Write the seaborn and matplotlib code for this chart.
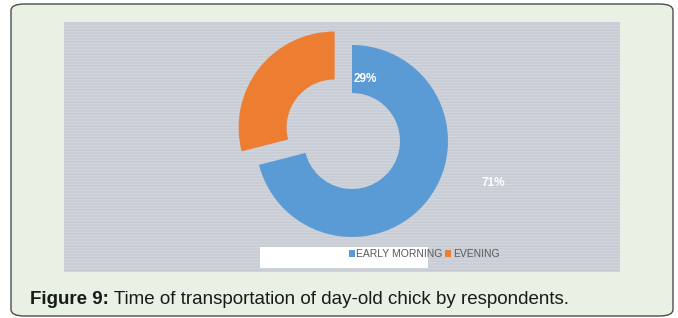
import matplotlib.pyplot as plt
import seaborn as sns
from matplotlib.patches import FancyBboxPatch, Rectangle, Patch

# Data
categories = ["EARLY MORNING", "EVENING"]
shares = [71, 29]
pct_labels = ["71%", "29%"]
explode = [0, 22]
caption_bold = "Figure 9:"
caption_text = " Time of transportation of day-old chick by respondents."

sns.set_style("white")
plt.rcParams["font.family"] = ["Liberation Sans", "DejaVu Sans"]
colors = sns.color_palette(["#5b9bd5", "#ed7d31"])

fig = plt.figure(figsize=(6.78, 3.18), dpi=100)
fig.patch.set_facecolor("white")

# Rounded figure frame
frame = FancyBboxPatch((11 / 678, 2 / 318), 662 / 678, 312 / 318,
                       boxstyle="round,pad=0,rounding_size=0.02",
                       transform=fig.transFigure, facecolor="#e8f1e4",
                       edgecolor="#4d4d4d", linewidth=1.0, zorder=-5)
fig.patches.append(frame)

# Chart area (pixel-like data units)
ax = fig.add_axes([64 / 678, 1 - 272 / 318, 556 / 678, 250 / 318])
ax.set_zorder(2)
ax.set_facecolor("#c9cdd5")
for s in ax.spines.values():
    s.set_visible(False)

# faint horizontal stripes like the scanned background
for yy in range(47, 296, 3):
    ax.axhline(yy, color="#d3d6dc", linewidth=0.6, zorder=0)

ax.pie(shares, colors=colors, startangle=90, counterclock=False,
       explode=explode, center=(352, 177), radius=96,
       wedgeprops=dict(width=48, linewidth=0), frame=True)
ax.set_xlim(64, 620)
ax.set_ylim(46, 296)
ax.set_aspect("equal")
ax.set_xticks([])
ax.set_yticks([])

ax.text(365, 239, pct_labels[1], color="white", fontsize=8.5, fontweight="bold",
        ha="center", va="center")
ax.text(493, 135, pct_labels[0], color="white", fontsize=8.5, fontweight="bold",
        ha="center", va="center")

# Legend with odd white box behind part of it
ax.add_patch(Rectangle((260, 50), 168, 21, facecolor="white", edgecolor="none", zorder=3))
handles = [Patch(facecolor=c, edgecolor="none") for c in colors]
leg = ax.legend(handles, categories, loc="center", bbox_to_anchor=(424, 64),
                bbox_transform=ax.transData, ncol=2, frameon=False,
                fontsize=7.5, handlelength=0.6, handleheight=0.6,
                handletextpad=0.15, columnspacing=0.2, labelcolor="#595959")
leg.set_zorder(4)

# Caption
t1 = fig.text(30 / 678, 1 - 299 / 318, caption_bold, fontsize=13.5,
              fontweight="bold", color="#1a1a1a", va="center", ha="left")
fig.canvas.draw()
bb = t1.get_window_extent()
fig.text(bb.x1 / fig.bbox.width, 1 - 299 / 318, caption_text, fontsize=13.5,
         color="#1a1a1a", va="center", ha="left")

fig.savefig("out.png", dpi=100)
